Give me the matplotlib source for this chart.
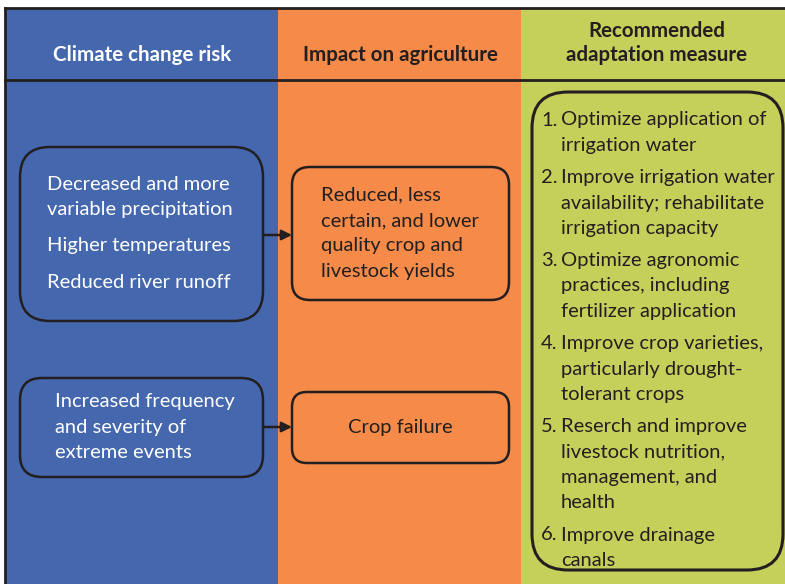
import matplotlib
matplotlib.use("Agg")
import matplotlib.pyplot as plt
from matplotlib.patches import FancyBboxPatch, Rectangle

plt.rcParams['font.family'] = ['Lato', 'DejaVu Sans']

# column headers
headers = ["Climate change risk", "Impact on agriculture", "Recommended\nadaptation measure"]

# column contents
risks = [
    ["Decreased and more", "variable precipitation", "Higher temperatures", "Reduced river runoff"],
    ["Increased frequency", "and severity of", "extreme events"],
]
risk_groups = [[0, 0, 1, 2], [0, 0, 0]]
impacts = [
    ["Reduced, less", "certain, and lower", "quality crop and", "livestock yields"],
    ["Crop failure"],
]
measures = [
    ["Optimize application of", "irrigation water"],
    ["Improve irrigation water", "availability; rehabilitate", "irrigation capacity"],
    ["Optimize agronomic", "practices, including", "fertilizer application"],
    ["Improve crop varieties,", "particularly drought-", "tolerant crops"],
    ["Reserch and improve", "livestock nutrition,", "management, and", "health"],
    ["Improve drainage", "canals"],
]

BLUE = "#4567ae"
ORANGE = "#f68a48"
GREEN = "#c5d05b"
DARK = "#231f20"
FS = 14.5
HFS = 14.8
LINE = 25.5


def rbox(ax, x0, y0, x1, y1, r, fc, lw=1.8):
    p = FancyBboxPatch((x0, y0), x1 - x0, y1 - y0,
                       boxstyle="round,pad=0,rounding_size=%g" % r,
                       fc=fc, ec=DARK, lw=lw, zorder=3)
    ax.add_patch(p)


def arrow(ax, x0, x1, y):
    ax.annotate("", xy=(x1, y), xytext=(x0, y),
                arrowprops=dict(arrowstyle="-|>", color=DARK, lw=1.8,
                                mutation_scale=15, shrinkA=0, shrinkB=0),
                zorder=4)


fig = plt.figure(figsize=(7.85, 5.84), dpi=100)
ax = fig.add_axes([0, 0, 1, 1])
ax.set_xlim(0, 785)
ax.set_ylim(584, 0)
ax.axis("off")

# column backgrounds
ax.add_patch(Rectangle((5, 8), 273, 600, fc=BLUE, ec="none"))
ax.add_patch(Rectangle((278, 8), 243, 600, fc=ORANGE, ec="none"))
ax.add_patch(Rectangle((521, 8), 270, 600, fc=GREEN, ec="none"))
ax.plot([5, 785], [8, 8], color=DARK, lw=2, zorder=5)
ax.plot([5, 5], [8, 584], color=DARK, lw=2, zorder=5)
ax.plot([5, 785], [80, 80], color=DARK, lw=2, zorder=5)

# headers
ax.text(142, 55, headers[0], color="white", fontsize=HFS, fontweight="bold",
        ha="center", va="center")
ax.text(400, 55, headers[1], color=DARK, fontsize=HFS, fontweight="bold",
        ha="center", va="center")
ax.text(657, 43, headers[2], color=DARK, fontsize=HFS, fontweight="bold",
        ha="center", va="center", linespacing=1.25)

# climate risk boxes
rbox(ax, 20, 147, 263, 321, 30, BLUE)
rbox(ax, 20, 378, 263, 477, 22, BLUE)
for (lines, groups, x, y) in zip(risks, risk_groups, [47, 55], [184, 402]):
    for i, (s, g) in enumerate(zip(lines, groups)):
        ax.text(x, y + i * LINE + g * 11, s, color="white", fontsize=FS,
                ha="left", va="center", zorder=6)

# arrows
arrow(ax, 263, 292, 235)
arrow(ax, 263, 292, 427)

# impact boxes
rbox(ax, 292, 167, 509, 300, 18, ORANGE)
rbox(ax, 292, 392, 509, 463, 15, ORANGE)
for i, s in enumerate(impacts[0]):
    ax.text(321, 195 + i * LINE, s, color=DARK, fontsize=FS, ha="left",
            va="center", zorder=6)
ax.text(400, 427, impacts[1][0], color=DARK, fontsize=FS, ha="center",
        va="center", zorder=6)

# adaptation measures
rbox(ax, 532, 92, 783, 570, 36, GREEN, lw=2.2)
y = 120
for n, item in enumerate(measures, 1):
    ax.text(541, y, "%d." % n, color=DARK, fontsize=FS, ha="left",
            va="center", zorder=6)
    for s in item:
        ax.text(561, y, s, color=DARK, fontsize=FS, ha="left", va="center",
                zorder=6)
        y += LINE
    y += 6.5

fig.savefig("out.png", dpi=100)
